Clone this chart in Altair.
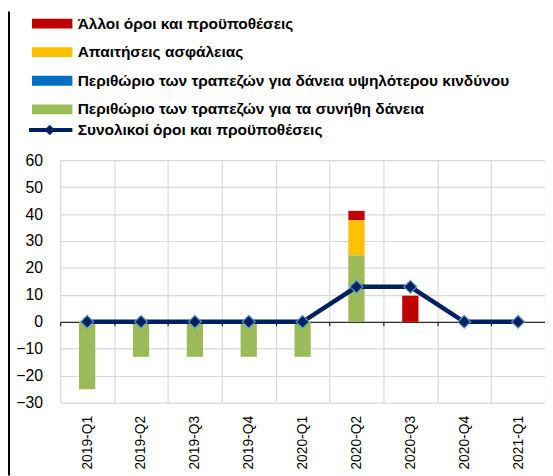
import altair as alt
import pandas as pd

# ---- data ----
quarters = ["2019-Q1", "2019-Q2", "2019-Q3", "2019-Q4", "2020-Q1",
            "2020-Q2", "2020-Q3", "2020-Q4", "2021-Q1"]

series_names = [
    "Άλλοι όροι και προϋποθέσεις",
    "Απαιτήσεις ασφάλειας",
    "Περιθώριο των τραπεζών για δάνεια υψηλότερου κινδύνου",
    "Περιθώριο των τραπεζών για τα συνήθη δάνεια",
]
series_colors = ["#c00000", "#ffc000", "#0070c0", "#9bbb59"]
stack_rank = [3, 2, 1, 0]  # green at the bottom, red on top

other_terms = [0, 0, 0, 0, 0, 3.5, 9.7, 0, 0]
collateral = [0, 0, 0, 0, 0, 13.1, 0, 0, 0]
riskier_margin = [0, 0, 0, 0, 0, 0, 0, 0, 0]
average_margin = [-25, -13, -13, -13, -13, 24.6, 0, 0, 0]

line_name = "Συνολικοί όροι και προϋποθέσεις"
line_color = "#002060"
overall = [0, 0, 0, 0, 0, 13, 13, 0, 0]

y_ticks = [-30, -20, -10, 0, 10, 20, 30, 40, 50, 60]

# ---- tables ----
series_values = [other_terms, collateral, riskier_margin, average_margin]
rows = []
for name, rank, vals in zip(series_names, stack_rank, series_values):
    for q, v in zip(quarters, vals):
        rows.append({"quarter": q, "series": name, "rank": rank, "value": v})
bars_df = pd.DataFrame(rows)
line_df = pd.DataFrame({"quarter": quarters, "value": overall, "series": line_name})

FONT = "Liberation Sans"
W, H = 492, 246

x_scale = alt.Scale(type="band", domain=quarters, paddingInner=0, paddingOuter=0)
y_scale = alt.Scale(domain=[-30, 60], nice=False, zero=False)

y_axis = alt.Axis(title=None, values=y_ticks, grid=True, gridColor="#d9d9d9",
                  gridWidth=1.2, domain=False, ticks=False, labelFont=FONT,
                  labelFontSize=16, labelColor="black", labelPadding=18, orient="left")

bar_legend = alt.Legend(
    title=None, orient="none", legendX=-29, legendY=-146.5, padding=0,
    symbolType="M-1.5,-1L6.7,-1L6.7,1L-1.5,1Z", symbolSize=100, symbolStrokeWidth=0,
    labelFont=FONT, labelFontSize=15.7, labelFontWeight="bold", labelColor="black",
    labelOffset=31, labelLimit=0, rowPadding=12,
)
line_legend = alt.Legend(
    title=None, orient="none", legendX=-29, legendY=-38.5, padding=0,
    symbolType="M-2.1,0L6.7,0M2.1,-0.5L2.6,0L2.1,0.5L1.6,0Z", symbolSize=100,
    symbolStrokeWidth=4, symbolFillColor=line_color,
    labelFont=FONT, labelFontSize=15.7, labelFontWeight="bold", labelColor="black",
    labelOffset=31, labelLimit=0,
)

bars = alt.Chart(bars_df).mark_bar(size=16.5).encode(
    x=alt.X("quarter:N", scale=x_scale, sort=quarters,
            axis=alt.Axis(title=None, orient="bottom", labelAngle=270, labelAlign="right",
                          labelBaseline="middle", labelPadding=13, labelFontSize=14,
                          labelFont=FONT, labelColor="black", ticks=False, domain=False,
                          grid=True, gridColor="#d9d9d9", gridWidth=1.2, tickBand="extent")),
    y=alt.Y("value:Q", stack="zero", scale=y_scale, axis=y_axis),
    color=alt.Color("series:N", scale=alt.Scale(domain=series_names, range=series_colors),
                    legend=bar_legend),
    order=alt.Order("rank:Q", sort="ascending"),
)

line = alt.Chart(line_df).mark_line(strokeWidth=4.5).encode(
    x=alt.X("quarter:N", scale=x_scale, sort=quarters,
            axis=alt.Axis(title=None, orient="bottom", labels=False, ticks=True, tickSize=4,
                          tickColor="black", tickWidth=1, domain=True, domainColor="black",
                          domainWidth=1, grid=False, tickBand="extent", offset=-H / 3)),
    y=alt.Y("value:Q", scale=y_scale, axis=y_axis),
    stroke=alt.Stroke("series:N", scale=alt.Scale(domain=[line_name], range=[line_color]),
                      legend=line_legend),
)

points = alt.Chart(line_df).mark_point(
    shape="diamond", filled=True, fill=line_color, stroke="#5b9bd5",
    strokeWidth=1.2, size=170, opacity=1,
).encode(
    x=alt.X("quarter:N", scale=x_scale, sort=quarters, axis=None),
    y=alt.Y("value:Q", scale=y_scale, axis=y_axis),
)

frame = alt.Chart(pd.DataFrame({"a": [0]})).mark_rule(color="black", strokeWidth=2).encode(
    x=alt.value(-52), y=alt.value(-151), y2=alt.value(320)
)

chart = alt.layer(bars, line, points, frame).resolve_axis(x="independent").properties(
    width=W, height=H,
    autosize=alt.AutoSizeParams(type="none"),
    padding={"left": 53, "top": 151, "right": 0, "bottom": 71},
    background="white",
).configure_view(stroke=None)

chart.save("out.html", embed_options={"renderer": "svg", "actions": False})
